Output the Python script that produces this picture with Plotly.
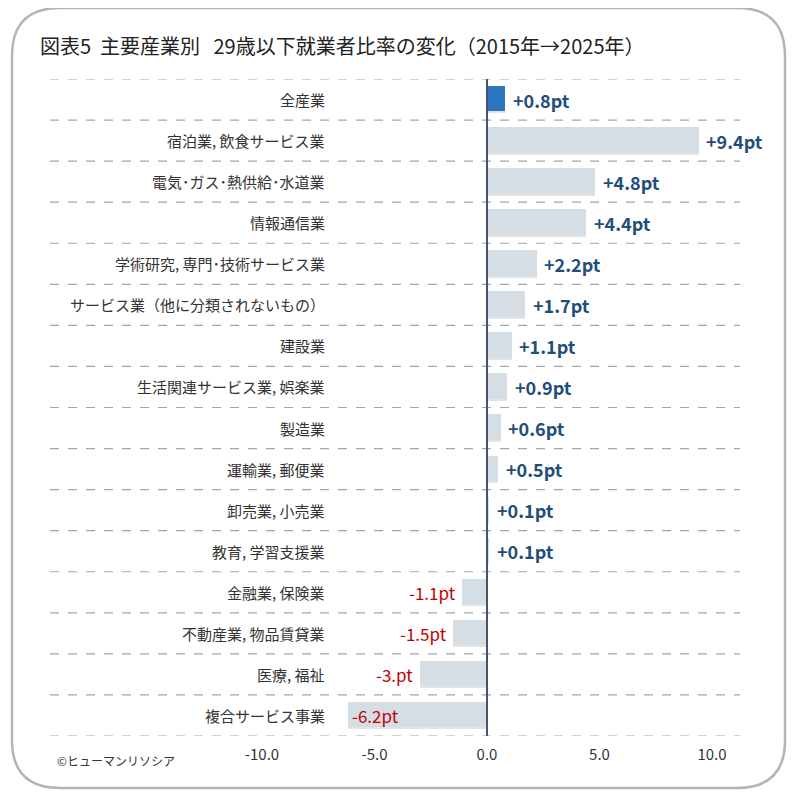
import plotly.graph_objects as go

categories = ["全産業", "宿泊業, 飲食サービス業", "電気･ガス･熱供給･水道業", "情報通信業",
              "学術研究, 専門･技術サービス業", "サービス業（他に分類されないもの）", "建設業",
              "生活関連サービス業, 娯楽業", "製造業", "運輸業, 郵便業", "卸売業, 小売業",
              "教育, 学習支援業", "金融業, 保険業", "不動産業, 物品賃貸業", "医療, 福祉", "複合サービス事業"]
values = [0.8, 9.4, 4.8, 4.4, 2.2, 1.7, 1.1, 0.9, 0.6, 0.5, 0.1, 0.1, -1.1, -1.5, -3.0, -6.2]
value_labels = ["+0.8pt", "+9.4pt", "+4.8pt", "+4.4pt", "+2.2pt", "+1.7pt", "+1.1pt", "+0.9pt",
                "+0.6pt", "+0.5pt", "+0.1pt", "+0.1pt", "-1.1pt", "-1.5pt", "-3.pt", "-6.2pt"]
tick_vals = [-10, -5, 0, 5, 10]
tick_text = ["-10.0", "-5.0", "0.0", "5.0", "10.0"]

FONT = "Noto Sans CJK JP"
OFF = 8  # page body margin
W, H = 799 - OFF, 800 - OFF
L, R, T, B = 50 - OFF, 59, 79 - OFF, 64
pw, ph = W - L - R, H - T - B
def px(x): return (x - OFF - L) / pw
def py(y): return 1 - (y - OFF - T) / ph

colors = ["#2e75c0"] + ["#d6dee5"] * (len(values) - 1)
n = len(categories)
ys = list(range(n))

fig = go.Figure()
fig.add_trace(go.Bar(x=values, y=ys, orientation="h", width=0.62, base=0,
                     marker=dict(color="rgba(120,120,120,0.2)", line_width=0),
                     offset=-0.28, hoverinfo="skip", showlegend=False))
fig.add_trace(go.Bar(x=values, y=ys, orientation="h", width=0.62,
                     marker=dict(color=colors, line_width=0), offset=-0.33,
                     showlegend=False))

for i, (c, v, t) in enumerate(zip(categories, values, value_labels)):
    fig.add_annotation(x=-7.1, y=i, text=c, showarrow=False, xanchor="right",
                       font=dict(family=FONT, size=15, color="#333333"))
    if v >= 0:
        fig.add_annotation(x=v + 0.25, y=i, text=t, showarrow=False, xanchor="left",
                           font=dict(family=FONT, size=18, color="#1f4e79", weight="bold"))
    elif v < -5:
        fig.add_annotation(x=v + 0.1, y=i, text=t, showarrow=False, xanchor="left",
                           font=dict(family=FONT, size=17, color="#c00000"))
    else:
        fig.add_annotation(x=v - 0.2, y=i, text=t, showarrow=False, xanchor="right",
                           font=dict(family=FONT, size=17, color="#c00000"))

for k in range(n + 1):
    fig.add_shape(type="line", xref="paper", x0=0, x1=1, y0=k - 0.5, y1=k - 0.5,
                  line=dict(color="#a6a6a6", width=1.2, dash="dash"), layer="below")
fig.add_shape(type="line", x0=0, x1=0, yref="paper", y0=0, y1=1,
              line=dict(color="#44546a", width=2))

x0, x1, y0, y1, r = 12, 785, 8, 788, 48
path = (f"M {px(x0+r)},{py(y0)} L {px(x1-r)},{py(y0)} Q {px(x1)},{py(y0)} {px(x1)},{py(y0+r)} "
        f"L {px(x1)},{py(y1-r)} Q {px(x1)},{py(y1)} {px(x1-r)},{py(y1)} "
        f"L {px(x0+r)},{py(y1)} Q {px(x0)},{py(y1)} {px(x0)},{py(y1-r)} "
        f"L {px(x0)},{py(y0+r)} Q {px(x0)},{py(y0)} {px(x0+r)},{py(y0)} Z")
fig.add_shape(type="path", xref="paper", yref="paper", path=path,
              line=dict(color="#b0b5bb", width=2.5), layer="below")

fig.add_annotation(xref="paper", yref="paper", x=px(38), y=py(46), text="図表5  主要産業別   29歳以下就業者比率の変化（2015年→2025年）",
                   showarrow=False, xanchor="left", yanchor="middle",
                   font=dict(family=FONT, size=20, color="#222222"))
fig.add_annotation(xref="paper", yref="paper", x=px(55), y=py(760), text="©ヒューマンリソシア",
                   showarrow=False, xanchor="left", yanchor="middle",
                   font=dict(family=FONT, size=12, color="#333333"))

fig.update_layout(
    width=W, height=H, margin=dict(l=L, r=R, t=T, b=B),
    paper_bgcolor="white", plot_bgcolor="white", barmode="overlay", bargap=0,
    xaxis=dict(range=[(50 - 487) / 22.5, (799 - R - 487) / 22.5], tickvals=tick_vals, ticktext=tick_text,
               showgrid=False, zeroline=False, showline=False, ticks="",
               tickfont=dict(family=FONT, size=15, color="#333333"), ticklabelstandoff=8),
    yaxis=dict(range=[n - 0.5, -0.5], showticklabels=False, showgrid=False, zeroline=False),
)
fig.write_html("out.html")
